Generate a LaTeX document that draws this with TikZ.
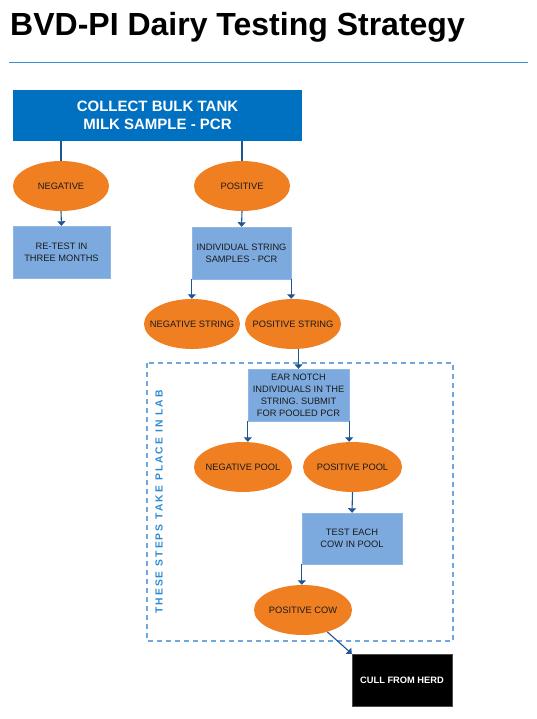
\documentclass[tikz,border=0pt]{standalone}
\usepackage{fontspec}
\setmainfont{Liberation Sans}
\usetikzlibrary{shapes.geometric,arrows.meta}
\definecolor{orng}{HTML}{F07F22}
\definecolor{lblue}{HTML}{7DAADE}
\definecolor{dashc}{HTML}{6FA6DC}
\definecolor{dblue}{HTML}{0070C0}
\definecolor{arrc}{HTML}{1F5590}
\definecolor{rulec}{HTML}{3D8FD0}
\definecolor{labc}{HTML}{2E8BD0}
\definecolor{txt}{HTML}{1A1A1A}
\newcommand{\zb}[1]{\makebox[0pt][c]{#1}}
\tikzset{
  oval/.style={ellipse, fill=orng, minimum width=96pt, minimum height=50pt, inner sep=0pt, font=\fontsize{9.3}{11}\selectfont, text=txt},
  sbox/.style={rectangle, fill=lblue, draw=lblue!85!white, minimum width=98pt, minimum height=52pt, inner sep=1pt, align=center, font=\fontsize{9.3}{12}\selectfont, text=txt},
  arr/.style={draw=arrc, line width=1.1pt, -{Triangle[width=8pt,length=4.5pt]}},
  ln/.style={draw=arrc, line width=1.1pt},
}
\begin{document}
\begin{tikzpicture}[x=1pt,y=-1pt]
\useasboundingbox (0,0) rectangle (536,719);
\node[anchor=base west, inner sep=0pt, font=\fontsize{32}{36}\bfseries\selectfont] (title) at (10,36) {BVD-PI Dairy Testing Strategy};
\coordinate (rl) at (9,63);
\coordinate (rr) at (528,63);
\draw[rulec, line width=1pt] (rl) -- (rr);

\node[rectangle, fill=dblue, minimum width=289pt, minimum height=51pt, align=center, text=white, font=\fontsize{15}{18}\bfseries\selectfont] (top) at (157.5,115.5) {COLLECT BULK TANK\\MILK SAMPLE - PCR};

\node[oval] (neg) at (61,186) {\zb{NEGATIVE}};
\node[oval] (pos) at (242,186) {\zb{POSITIVE}};
\node[sbox, minimum width=97pt] (retest) at (61.5,252) {RE-TEST IN\\THREE MONTHS};
\node[sbox, minimum width=99pt] (ind) at (241.5,253) {INDIVIDUAL STRING\\SAMPLES - PCR};
\node[oval] (negs) at (192,324) {\zb{NEGATIVE STRING}};
\node[oval] (poss) at (293,324) {\zb{POSITIVE STRING}};

\draw[dash pattern=on 5pt off 4pt, draw=dashc, line width=1.2pt] (147,363) rectangle (453,641);
\node[rotate=90, text=labc, font=\fontsize{10.3}{12}\bfseries\addfontfeatures{LetterSpace=20}\selectfont] (lab) at (159,502) {THESE STEPS TAKE PLACE IN LAB};

\node[sbox, minimum width=101pt] (ear) at (298.5,395) {EAR NOTCH\\INDIVIDUALS IN THE\\STRING. SUBMIT\\FOR POOLED PCR};
\node[oval, minimum width=98pt] (negp) at (243,467) {\zb{NEGATIVE POOL}};
\node[oval, minimum width=99pt] (posp) at (352.5,467) {\zb{POSITIVE POOL}};
\node[sbox, minimum width=100pt, minimum height=51pt] (test) at (352,538.5) {TEST EACH\\COW IN POOL};
\node[oval, minimum width=98pt] (cow) at (303,610) {\zb{POSITIVE COW}};
\node[rectangle, fill=black, draw=black!70, minimum width=100pt, minimum height=52pt, text=white, font=\fontsize{9.3}{11}\bfseries\selectfont] (cull) at (402,680) {CULL FROM HERD};

\draw[ln] (top.south -| neg.north) -- (neg.north);
\draw[ln] (top.south -| pos.north) -- (pos.north);
\draw[arr] (neg.south) -- (retest.north);
\draw[arr] (pos.south) -- (ind.north);
\draw[arr] (ind.south west) -- (ind.south west |- negs.north);
\draw[arr] (ind.south east) -- (ind.south east |- poss.north);
\draw[arr] (ear.north |- poss.south) -- (ear.north);
\draw[arr] (ear.south west) -- (ear.south west |- negp.north);
\draw[arr] (ear.south east) -- (ear.south east |- posp.north);
\draw[arr] (posp.south) -- (test.north);
\draw[arr] (test.south west) -- (test.south west |- cow.north);
\draw[arr] (cow.-42) -- (cull.north west);
\end{tikzpicture}
\end{document}
